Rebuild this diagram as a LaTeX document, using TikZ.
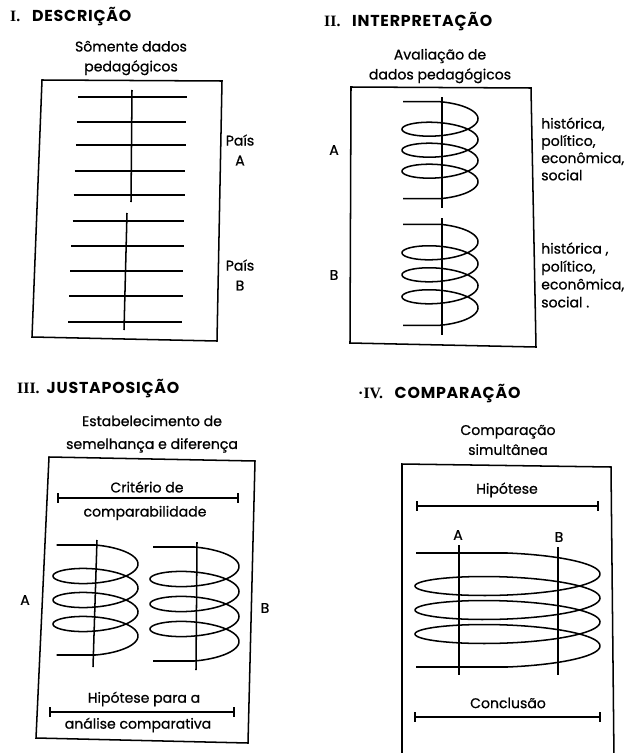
\documentclass[tikz,border=0pt]{standalone}
\usepackage{fontspec}
\setmainfont{Poppins}
\newfontfamily\romfont{Liberation Serif}
\usetikzlibrary{arrows.meta}

\tikzset{
  ink/.style={line width=1.3pt},
  bar/.style={line width=1.3pt, {Bar[width=8pt]}-{Bar[width=8pt]}},
  lbl/.style={font=\fontsize{12}{17}\selectfont\addfontfeature{FakeBold=0.8}, inner sep=0pt, align=center},
  ttl/.style={font=\fontsize{13.5}{15}\selectfont\bfseries\addfontfeature{LetterSpace=5}, inner sep=0pt, anchor=west},
}

\newcommand{\coil}[6]{
  \pgfmathsetmacro{\coilk}{#4/360}
  \pgfmathsetmacro{\coilb}{(#5+#4/2)/2}
  \pgfmathsetmacro{\coily}{#3+\coilb-#4/4}
  \draw[ink] (#6,#3) -- plot[domain=90:1350, samples=300, variable=\t]
    ({#1-#2*cos(\t)},{\coily-\coilb*sin(\t)+\coilk*\t})
    -- (#6,{#3+2*\coilb+3.5*#4});
}

\begin{document}
\begin{tikzpicture}[x=0.03cm, y=-0.03cm]
  \useasboundingbox (0,0) rectangle (628,753);

  % I. descricao
  \node[ttl] (t1) at (10,17) {{\romfont I.}\hspace{10pt}DESCRIÇÃO};
  \node[lbl] (s1) at (131,58) {Sômente dados\\pedagógicos};
  \draw[ink] (42,80) -- (222,81) -- (217,341) -- (32,337) -- cycle;
  \foreach \y in {97,122,145,171,195,221,246,271,296,322}
    \draw[ink] ({78-0.044*(\y-97)},\y) -- ({187-0.022*(\y-97)},\y);
  \draw[ink] (132,90) -- (131,202);
  \draw[ink] (127,213) -- (124,330);
  \node[lbl] (paisA) at (240,150) {País\\A};
  \node[lbl] (paisB) at (240,275) {País\\B};

  % II. interpretacao
  \node[ttl] (t2) at (324,22) {{\romfont II.}\hspace{10pt}INTERPRETAÇÃO};
  \node[lbl] (s2) at (440,66) {Avaliação de\\dados pedagógicos};
  \draw[ink] (351,87) -- (531,88) -- (536,347) -- (350,343) -- cycle;
  \coil{440}{38}{101.7}{21}{13}{403}
  \coil{440}{38}{224.3}{22}{13}{403}
  \draw[ink] (442,97) -- (442,208);
  \draw[ink] (442,218) -- (442,335);
  \node[lbl] (a2) at (334,150) {A};
  \node[lbl] (b2) at (334,275) {B};
  \node[lbl, align=left, anchor=west, font=\fontsize{12}{14.7}\selectfont\addfontfeature{FakeBold=0.8}] (ctxA) at (541,149)
    {histórica,\\político,\\econômica,\\social};
  \node[lbl, align=left, anchor=west, font=\fontsize{12}{15.3}\selectfont\addfontfeature{FakeBold=0.8}] (ctxB) at (541,275)
    {histórica ,\\político,\\econômica,\\social .};

  % III. justaposicao
  \node[ttl] (t3) at (17,389) {{\romfont III.}\hspace{6pt}JUSTAPOSIÇÃO};
  \node[lbl, font=\fontsize{12}{19.5}\selectfont\addfontfeature{FakeBold=0.8}] (s3) at (152,434) {Estabelecimento de\\semelhança e diferença};
  \draw[ink] (49,457) -- (255,461) -- (248,743) -- (36,738) -- cycle;
  \node[lbl] (crit) at (147,487) {Critério de};
  \draw[bar] (57,498) -- (239,498);
  \node[lbl] (comp) at (145,513) {comparabilidade};
  \coil{95.5}{42.5}{545}{24}{14}{56.7}
  \coil{194.5}{44.5}{547}{25}{14}{153}
  \draw[ink] (97,540) -- (93,667);
  \draw[ink] (197,542) -- (196,670);
  \node[lbl] (a3) at (25,600) {A};
  \node[lbl] (b3) at (265,608) {B};
  \node[lbl] (hip3) at (144,699) {Hipótese para a};
  \draw[bar] (49,712) -- (235,712);
  \node[lbl] (anal) at (138,725) {análise comparativa};

  % IV. comparacao
  \node[ttl] (t4) at (358,394) {{\romfont ·IV.}\hspace{10pt}COMPARAÇÃO};
  \node[lbl] (s4) at (508,440) {Comparação\\simultânea};
  \draw[ink] (402,760) -- (402,464) -- (611,467) -- (614,760);
  \node[lbl] (hip4) at (507,490) {Hipótese};
  \draw[bar] (416,506) -- (599,506);
  \coil{507.5}{92.5}{553}{24}{18}{416}
  \draw[ink] (459,545) -- (459,675);
  \draw[ink] (558,547) -- (558,675);
  \node[lbl] (a4) at (458,535) {A};
  \node[lbl] (b4) at (559,537) {B};
  \node[lbl] (conc) at (508,703) {Conclusão};
  \draw[bar] (414,717) -- (601,717);
\end{tikzpicture}
\end{document}
